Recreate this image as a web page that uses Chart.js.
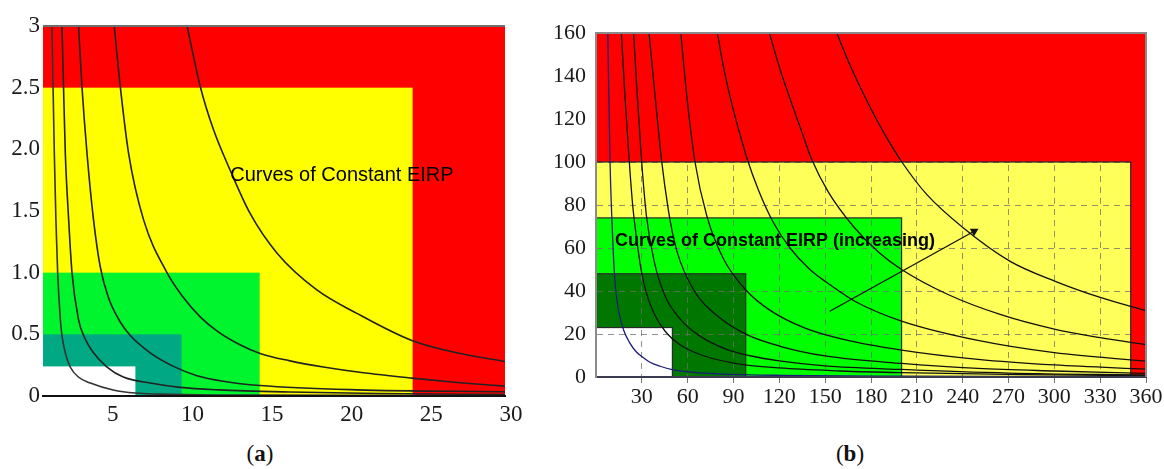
<!DOCTYPE html>
<html>
<head>
<meta charset="utf-8">
<script src="https://cdn.jsdelivr.net/npm/chart.js@4.4.0/dist/chart.umd.min.js"></script>
<style>
  body { margin: 0; background: #fff; width: 1164px; height: 469px; overflow: hidden; position: relative; font-family: "Liberation Serif", serif; }
  #chart-a { position: absolute; left: 0; top: 0; }
  #chart-b { position: absolute; left: 540px; top: 0; }
  .panel-label { position: absolute; top: 441px; width: 60px; font-size: 23px; text-align: center; color: #111; }
</style>
</head>
<body>
<canvas id="chart-a" width="540" height="440"></canvas>
<canvas id="chart-b" width="624" height="440"></canvas>
<div class="panel-label" style="left:230px">(<b>a</b>)</div>
<div class="panel-label" style="left:820px">(<b>b</b>)</div>
<script>
// ---- panel (a) ----
const xTicksA = [5, 10, 15, 20, 25, 30];
const yTicksA = [0, 0.5, 1, 1.5, 2, 2.5, 3];
const yLabelsA = ["0", "0.5", "1.0", "1.5", "2.0", "2.5", "3"];

// zones: red, yellow, green, teal, white (right edge / top edge)
const zoneXA = [30, 24.2, 14.6, 9.7, 6.8];
const zoneYA = [3, 2.5, 1.0, 0.5, 0.24];

const curveA1x = [1.56, 1.71, 1.81, 1.92, 2.09, 2.19, 2.4, 2.71, 3.22, 3.97, 5.41, 6.79, 9, 14, 30];
const curveA1y = [3.0, 1.97, 1.43, 1.0, 0.62, 0.49, 0.35, 0.235, 0.154, 0.105, 0.049, 0.024, 0.014, 0.007, 0.002];
const curveA2x = [2.19, 2.29, 2.4, 2.61, 2.82, 3.23, 3.55, 4.17, 5.02, 6.04, 7.73, 9.61, 12, 16.5, 22, 30];
const curveA2y = [3.0, 2.5, 1.97, 1.43, 1.0, 0.62, 0.49, 0.35, 0.235, 0.154, 0.105, 0.07, 0.05, 0.032, 0.02, 0.012];
const curveA3x = [3.23, 3.45, 3.76, 4.17, 4.59, 5.1, 5.85, 6.48, 7.73, 9.19, 10.66, 12.31, 14.63, 20.7, 30];
const curveA3y = [3.0, 2.5, 1.97, 1.43, 1.05, 0.8, 0.6, 0.49, 0.35, 0.24, 0.165, 0.12, 0.085, 0.05, 0.035];
const curveA4x = [5.47, 5.85, 6.37, 7.31, 8.78, 9.8, 10.88, 12.0, 13.3, 14.63, 16.5, 18.6, 21, 24.15, 27, 30];
const curveA4y = [3.0, 2.51, 1.97, 1.43, 1.0, 0.8, 0.64, 0.52, 0.42, 0.345, 0.285, 0.235, 0.19, 0.145, 0.11, 0.08];
const curveA5x = [10.05, 10.24, 10.87, 11.7, 12.75, 14.0, 15.68, 18.19, 20.7, 24.15, 26.97, 30];
const curveA5y = [3.0, 2.88, 2.51, 2.16, 1.83, 1.48, 1.16, 0.86, 0.67, 0.45, 0.35, 0.28];

const noteA = "Curves of Constant EIRP";
const noteAx = 12.75;
const noteAy = 1.79;

// ---- panel (b) ----
const xTicksB = [30, 60, 90, 120, 150, 180, 210, 240, 270, 300, 330, 360];
const yTicksB = [0, 20, 40, 60, 80, 100, 120, 140, 160];

// zones: red, yellow, green, dark green, white
const zoneXB = [360, 350, 200, 98, 50];
const zoneYB = [160, 100, 74, 48, 23];

const curveB1x = [7.7, 8.5, 9.2, 10.3, 11.5, 13, 15, 18, 22, 26, 30, 35, 42, 50, 62, 80, 120, 200, 360];
const curveB1y = [160, 128, 100, 75, 55, 40, 30, 22, 16, 12, 9.5, 7, 5, 3.4, 2.3, 1.5, 0.8, 0.4, 0.15];
const curveB2x = [16.6, 19, 21.8, 24, 27, 29.5, 33, 38, 45, 55, 70, 90, 120, 160, 200, 280, 360];
const curveB2y = [160, 130, 100, 80, 62, 50, 39, 29.5, 21.5, 15, 10, 6.5, 4.2, 2.8, 2, 1.1, 0.6];
const curveB3x = [24.6, 27, 29.9, 33, 38, 45, 55, 68, 85, 100, 120, 150, 200, 270, 360];
const curveB3y = [160, 131, 100, 75, 54, 38, 27, 19, 13, 10, 7.5, 5.2, 3.5, 1.8, 0.9];
const curveB4x = [34.7, 38.6, 43, 47.3, 51, 55, 65.9, 81.2, 98.7, 120.5, 150, 200, 250, 300, 360];
const curveB4y = [160, 131.3, 100.3, 78, 64, 54, 38.3, 27.4, 19.7, 14.3, 9.8, 6.3, 4, 2.8, 1.7];
const curveB5x = [55.5, 59.4, 64.8, 72.5, 83.4, 98.7, 114, 136, 162, 200, 250, 300, 360];
const curveB5y = [160, 131, 100, 75, 55, 40, 31, 23, 17.5, 12.5, 8.2, 5.6, 3.7];
const curveB6x = [79.4, 83.8, 88.9, 93.2, 98.7, 106.3, 116, 127, 140, 155, 170, 200, 250, 300, 360];
const curveB6y = [160, 143, 127, 115.5, 102, 87, 72, 60, 50, 42, 35, 26, 17, 11.3, 7.4];
const curveB7x = [113.5, 120.5, 128.2, 134.7, 141.3, 152.1, 168.5, 185, 200, 230, 265, 300, 330, 360];
const curveB7y = [160, 143, 127, 114, 101, 86, 70, 58, 50, 38.5, 29, 22.3, 18.3, 15];
const curveB8x = [157.6, 166.3, 177.3, 188.1, 200.2, 216.6, 240.5, 271.1, 300.6, 330, 360];
const curveB8y = [160, 145, 128.5, 114, 100, 84.8, 69.3, 53.8, 44.5, 37, 30.8];

const arrowX = [153, 247.5];
const arrowY = [30.6, 67.8];

const noteB = "Curves of Constant EIRP (increasing)";
const noteBx = 12.4;
const noteBy = 63.3;

// ---- styles ----
const zoneColorsA = ["#ff0000", "#ffff00", "#00f52e", "#00a884", "#ffffff"];
const zoneColorsB = ["#ff0000", "#ffff59", "#00ff00", "#007800", "#ffffff"];
const tickColor = "#1a1a1a";

function curve(xs, ys, color, width) {
  return {
    data: xs.map((x, i) => ({ x: x, y: ys[i] })),
    showLine: true,
    borderColor: color,
    borderWidth: width || 1.6,
    pointRadius: 0,
    cubicInterpolationMode: "monotone",
  };
}

function setTicks(values) {
  return (scale) => {
    scale.ticks = values.map((v) => ({ value: v }));
  };
}

// coloured zones, each one a box from the axes corner to (zx, zy)
function zonesPlugin(zoneX, zoneY, colors, outlined) {
  function box(chart, i) {
    const { x, y } = chart.scales;
    const left = x.getPixelForValue(x.min);
    const right = x.getPixelForValue(zoneX[i]);
    const top = y.getPixelForValue(zoneY[i]);
    const bottom = y.getPixelForValue(0);
    return [left, top, right - left, bottom - top];
  }
  return {
    id: "zones",
    beforeDraw(chart) {
      const ctx = chart.ctx;
      ctx.save();
      zoneX.forEach((zx, i) => {
        ctx.fillStyle = colors[i];
        ctx.fillRect(...box(chart, i));
      });
      ctx.restore();
    },
    beforeDatasetsDraw(chart) {
      if (!outlined) return;
      const ctx = chart.ctx;
      ctx.save();
      // red again on top of the grid, the dashes only show on the inner zones
      ctx.beginPath();
      ctx.rect(...box(chart, 0));
      ctx.rect(...box(chart, 1));
      ctx.fillStyle = colors[0];
      ctx.fill("evenodd");
      ctx.strokeStyle = "#2a2a2a";
      ctx.lineWidth = 1.2;
      for (let i = 1; i < zoneX.length; i++) {
        ctx.strokeRect(...box(chart, i));
      }
      ctx.restore();
    },
  };
}

function notePlugin(text, nx, ny, font) {
  return {
    id: "note",
    afterDatasetsDraw(chart) {
      const { ctx } = chart;
      const { x, y } = chart.scales;
      ctx.save();
      ctx.font = font;
      ctx.fillStyle = "#000";
      ctx.textAlign = "left";
      ctx.textBaseline = "middle";
      ctx.fillText(text, x.getPixelForValue(nx), y.getPixelForValue(ny));
      ctx.restore();
    },
  };
}

function framePlugin(color, withRight) {
  return {
    id: "frame",
    afterDraw(chart) {
      const { ctx, chartArea: a } = chart;
      ctx.save();
      ctx.strokeStyle = color;
      ctx.lineWidth = 2;
      ctx.beginPath();
      ctx.moveTo(a.left, a.top);
      ctx.lineTo(a.right, a.top);
      if (withRight) ctx.lineTo(a.right, a.bottom);
      ctx.stroke();
      ctx.restore();
    },
  };
}

new Chart(document.getElementById("chart-a"), {
  type: "scatter",
  data: {
    datasets: [
      curve(curveA1x, curveA1y, "#333"),
      curve(curveA2x, curveA2y, "#222"),
      curve(curveA3x, curveA3y, "#222"),
      curve(curveA4x, curveA4y, "#222"),
      curve(curveA5x, curveA5y, "#222"),
    ],
  },
  options: {
    responsive: false,
    animation: false,
    layout: { padding: { top: 26, right: 35, left: 0, bottom: 0 } },
    plugins: { legend: { display: false }, tooltip: { enabled: false } },
    scales: {
      x: {
        type: "linear",
        min: 1,
        max: 30,
        afterBuildTicks: setTicks(xTicksA),
        afterFit: (s) => { s.height = 44; },
        grid: { display: false, drawTicks: false },
        border: { color: "#111", width: 2, z: 1 },
        ticks: {
          font: { family: "'Liberation Serif', serif", size: 23 },
          color: tickColor,
          padding: 5,
          labelOffset: 6,
          maxRotation: 0,
          autoSkip: false,
        },
      },
      y: {
        min: 0,
        max: 3,
        afterBuildTicks: setTicks(yTicksA),
        afterFit: (s) => { s.width = 43; },
        grid: { display: false, drawTicks: false },
        border: { display: false },
        ticks: {
          font: { family: "'Liberation Serif', serif", size: 23 },
          color: tickColor,
          padding: 3,
          autoSkip: false,
          callback: (v, i) => yLabelsA[i],
        },
      },
    },
  },
  plugins: [
    zonesPlugin(zoneXA, zoneYA, zoneColorsA, false),
    notePlugin(noteA, noteAx, noteAy, "20px 'Liberation Sans', Arial, sans-serif"),
    framePlugin("#6e6e6e", false),
  ],
});

new Chart(document.getElementById("chart-b"), {
  type: "scatter",
  data: {
    datasets: [
      curve(curveB1x, curveB1y, "#1c1c7a", 1.3),
      curve(curveB2x, curveB2y, "#111", 1.3),
      curve(curveB3x, curveB3y, "#111", 1.3),
      curve(curveB4x, curveB4y, "#111", 1.3),
      curve(curveB5x, curveB5y, "#111", 1.3),
      curve(curveB6x, curveB6y, "#111", 1.3),
      curve(curveB7x, curveB7y, "#111", 1.3),
      curve(curveB8x, curveB8y, "#111", 1.3),
      {
        data: arrowX.map((x, i) => ({ x: x, y: arrowY[i] })),
        showLine: true,
        borderColor: "#111",
        borderWidth: 1.3,
        pointRadius: [0, 5],
        pointStyle: "triangle",
        rotation: 61,
        pointBackgroundColor: "#111",
        pointBorderWidth: 0,
      },
    ],
  },
  options: {
    responsive: false,
    animation: false,
    layout: { padding: { top: 33, right: 18, left: 0, bottom: 0 } },
    plugins: { legend: { display: false }, tooltip: { enabled: false } },
    scales: {
      x: {
        type: "linear",
        min: 0,
        max: 360,
        afterBuildTicks: setTicks(xTicksB),
        afterFit: (s) => { s.height = 63; },
        grid: {
          color: "rgba(110,110,110,0.75)",
          lineWidth: 1,
          drawTicks: true,
          tickLength: 6,
          tickColor: "#777",
        },
        border: { color: "#3a3a50", width: 2, z: 1, dash: [6, 5] },
        ticks: {
          font: { family: "'Liberation Serif', serif", size: 22 },
          color: tickColor,
          padding: 1,
          maxRotation: 0,
          autoSkip: false,
        },
      },
      y: {
        min: 0,
        max: 160,
        afterBuildTicks: setTicks(yTicksB),
        afterFit: (s) => { s.width = 56; },
        grid: { color: "rgba(110,110,110,0.75)", lineWidth: 1, drawTicks: false },
        border: { color: "#8a8a8a", width: 2, z: 1, dash: [6, 5] },
        ticks: {
          font: { family: "'Liberation Serif', serif", size: 22 },
          color: tickColor,
          padding: 10,
          autoSkip: false,
        },
      },
    },
  },
  plugins: [
    zonesPlugin(zoneXB, zoneYB, zoneColorsB, true),
    notePlugin(noteB, noteBx, noteBy, "bold 18px 'Liberation Sans', Arial, sans-serif"),
    framePlugin("#8a8a8a", true),
  ],
});
</script>
</body>
</html>
